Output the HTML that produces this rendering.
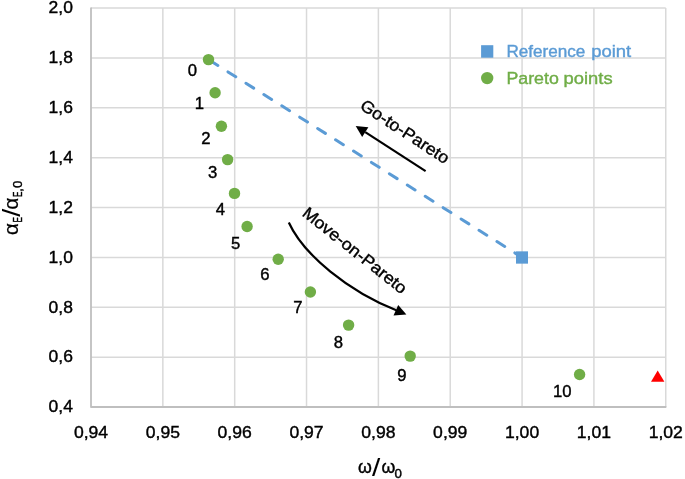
<!DOCTYPE html>
<html lang="en"><head><meta charset="utf-8"><title>Pareto chart</title>
<style>html,body{margin:0;padding:0;background:#fff}svg{display:block}text{font-family:"Liberation Sans",sans-serif;fill:#000;stroke:#000;stroke-width:0.4px}</style>
</head><body>
<svg width="685" height="479" viewBox="0 0 685 479">
<rect width="685" height="479" fill="#fff"/>
<g stroke="#d9d9d9" stroke-width="1.5" fill="none">
<line x1="162.84" y1="8.05" x2="162.84" y2="407.00"/>
<line x1="234.69" y1="8.05" x2="234.69" y2="407.00"/>
<line x1="306.53" y1="8.05" x2="306.53" y2="407.00"/>
<line x1="378.38" y1="8.05" x2="378.38" y2="407.00"/>
<line x1="450.22" y1="8.05" x2="450.22" y2="407.00"/>
<line x1="522.06" y1="8.05" x2="522.06" y2="407.00"/>
<line x1="593.91" y1="8.05" x2="593.91" y2="407.00"/>
<line x1="665.75" y1="8.05" x2="665.75" y2="407.00"/>
<line x1="91.00" y1="8.05" x2="665.75" y2="8.05"/>
<line x1="91.00" y1="57.92" x2="665.75" y2="57.92"/>
<line x1="91.00" y1="107.79" x2="665.75" y2="107.79"/>
<line x1="91.00" y1="157.66" x2="665.75" y2="157.66"/>
<line x1="91.00" y1="207.53" x2="665.75" y2="207.53"/>
<line x1="91.00" y1="257.39" x2="665.75" y2="257.39"/>
<line x1="91.00" y1="307.26" x2="665.75" y2="307.26"/>
<line x1="91.00" y1="357.13" x2="665.75" y2="357.13"/>
</g>
<path d="M91.00 7.45V407.00H666.35" stroke="#bfbfbf" stroke-width="1.8" fill="none" stroke-linejoin="round"/>
<text x="72.9" y="13.30" font-size="16.7" text-anchor="end" textLength="24.3" lengthAdjust="spacingAndGlyphs">2,0</text>
<text x="72.9" y="63.17" font-size="16.7" text-anchor="end" textLength="24.3" lengthAdjust="spacingAndGlyphs">1,8</text>
<text x="72.9" y="113.04" font-size="16.7" text-anchor="end" textLength="24.3" lengthAdjust="spacingAndGlyphs">1,6</text>
<text x="72.9" y="162.91" font-size="16.7" text-anchor="end" textLength="24.3" lengthAdjust="spacingAndGlyphs">1,4</text>
<text x="72.9" y="212.78" font-size="16.7" text-anchor="end" textLength="24.3" lengthAdjust="spacingAndGlyphs">1,2</text>
<text x="72.9" y="262.64" font-size="16.7" text-anchor="end" textLength="24.3" lengthAdjust="spacingAndGlyphs">1,0</text>
<text x="72.9" y="312.51" font-size="16.7" text-anchor="end" textLength="24.3" lengthAdjust="spacingAndGlyphs">0,8</text>
<text x="72.9" y="362.38" font-size="16.7" text-anchor="end" textLength="24.3" lengthAdjust="spacingAndGlyphs">0,6</text>
<text x="72.9" y="412.25" font-size="16.7" text-anchor="end" textLength="24.3" lengthAdjust="spacingAndGlyphs">0,4</text>
<text x="91.00" y="437.6" font-size="16.7" text-anchor="middle" textLength="34.2" lengthAdjust="spacingAndGlyphs">0,94</text>
<text x="162.84" y="437.6" font-size="16.7" text-anchor="middle" textLength="34.2" lengthAdjust="spacingAndGlyphs">0,95</text>
<text x="234.69" y="437.6" font-size="16.7" text-anchor="middle" textLength="34.2" lengthAdjust="spacingAndGlyphs">0,96</text>
<text x="306.53" y="437.6" font-size="16.7" text-anchor="middle" textLength="34.2" lengthAdjust="spacingAndGlyphs">0,97</text>
<text x="378.38" y="437.6" font-size="16.7" text-anchor="middle" textLength="34.2" lengthAdjust="spacingAndGlyphs">0,98</text>
<text x="450.22" y="437.6" font-size="16.7" text-anchor="middle" textLength="34.2" lengthAdjust="spacingAndGlyphs">0,99</text>
<text x="522.06" y="437.6" font-size="16.7" text-anchor="middle" textLength="34.2" lengthAdjust="spacingAndGlyphs">1,00</text>
<text x="593.91" y="437.6" font-size="16.7" text-anchor="middle" textLength="34.2" lengthAdjust="spacingAndGlyphs">1,01</text>
<text x="665.75" y="437.6" font-size="16.7" text-anchor="middle" textLength="34.2" lengthAdjust="spacingAndGlyphs">1,02</text>
<line x1="210.06" y1="60.59" x2="522.0" y2="257.4" stroke="#5b9bd5" stroke-width="3" stroke-linecap="round" stroke-dasharray="9.2 12"/>
<rect x="516" y="251.35" width="12" height="12.3" fill="#5b9bd5"/>
<g fill="#70ad47">
<circle cx="208.5" cy="59.6" r="5.7"/>
<circle cx="215.1" cy="92.8" r="5.7"/>
<circle cx="221.4" cy="126.2" r="5.7"/>
<circle cx="227.6" cy="159.6" r="5.7"/>
<circle cx="234.5" cy="193.4" r="5.7"/>
<circle cx="247.1" cy="226.5" r="5.7"/>
<circle cx="278.2" cy="259.3" r="5.7"/>
<circle cx="310.4" cy="292.0" r="5.7"/>
<circle cx="348.6" cy="325.1" r="5.7"/>
<circle cx="410.2" cy="356.1" r="5.7"/>
<circle cx="579.6" cy="374.5" r="5.7"/>
</g>
<path d="M657.7 370.6L664.4 381.8H651Z" fill="#ff0000"/>
<text x="192.4" y="76.0" font-size="16.7" text-anchor="middle">0</text>
<text x="199.3" y="109.0" font-size="16.7" text-anchor="middle">1</text>
<text x="206.0" y="143.7" font-size="16.7" text-anchor="middle">2</text>
<text x="212.6" y="177.7" font-size="16.7" text-anchor="middle">3</text>
<text x="220.4" y="214.6" font-size="16.7" text-anchor="middle">4</text>
<text x="235.7" y="248.7" font-size="16.7" text-anchor="middle">5</text>
<text x="264.8" y="280.1" font-size="16.7" text-anchor="middle">6</text>
<text x="298.0" y="312.9" font-size="16.7" text-anchor="middle">7</text>
<text x="338.5" y="348.4" font-size="16.7" text-anchor="middle">8</text>
<text x="402.0" y="380.9" font-size="16.7" text-anchor="middle">9</text>
<text x="562.2" y="397.1" font-size="16.7" text-anchor="middle">10</text>
<rect x="481.1" y="45.2" width="12.2" height="12.5" fill="#5b9bd5"/>
<text y="57.2" font-size="16.7" style="fill:#5b9bd5;stroke:#5b9bd5"><tspan x="506.4" textLength="79" lengthAdjust="spacingAndGlyphs">Reference</tspan><tspan> </tspan><tspan x="591.2" textLength="40" lengthAdjust="spacingAndGlyphs">point</tspan></text>
<circle cx="487.2" cy="78.1" r="6.2" fill="#70ad47"/>
<text y="84.2" font-size="16.7" style="fill:#70ad47;stroke:#70ad47"><tspan x="506.4" textLength="52.4" lengthAdjust="spacingAndGlyphs">Pareto</tspan><tspan> </tspan><tspan x="563.6" textLength="49" lengthAdjust="spacingAndGlyphs">points</tspan></text>
<line x1="425.6" y1="171.2" x2="365.27" y2="132.10" stroke="#000" stroke-width="2.2"/>
<path d="M355.7 125.9L368.37 127.32L362.17 136.88Z" fill="#000"/>
<text transform="translate(358.9,108.3) rotate(33.2)" x="0" y="0" font-size="16.7" textLength="102.6" lengthAdjust="spacingAndGlyphs">Go-to-Pareto</text>
<path d="M288.8 222.5C303.67 255.1 349 291.5 396.3 310.2" stroke="#000" stroke-width="2.2" fill="none"/>
<path d="M406.4 314.4L398.2 305L393.5 315.5Z" fill="#000"/>
<text transform="translate(301.2,214.9) rotate(38.5)" x="0" y="0" font-size="16.7" textLength="128" lengthAdjust="spacingAndGlyphs">Move-on-Pareto</text>
<g>
<text x="358.0" y="472.5" font-size="17.7">ω</text>
<text x="372.0" y="475.5" font-size="24.2" textLength="8.3" lengthAdjust="spacingAndGlyphs" style="stroke:none">/</text>
<text x="381.6" y="472.5" font-size="17.7">ω</text>
<text x="394.4" y="478.2" font-size="12.8" textLength="7.4" lengthAdjust="spacingAndGlyphs">0</text>
</g>
<g transform="translate(17.5,234.2) rotate(-90)">
<text x="-0.87" y="0" font-size="19.4" textLength="11.9" lengthAdjust="spacingAndGlyphs" style="stroke-width:0.2px">α</text>
<text x="11.65" y="4.4" font-size="12.8" textLength="5.46" lengthAdjust="spacingAndGlyphs">E</text>
<text x="17.5" y="2.2" font-size="24.6" textLength="8" lengthAdjust="spacingAndGlyphs" style="stroke:none">/</text>
<text x="24.75" y="0" font-size="19.4" textLength="11.9" lengthAdjust="spacingAndGlyphs" style="stroke-width:0.2px">α</text>
<text x="37.25" y="4.4" font-size="12.8" textLength="5.46" lengthAdjust="spacingAndGlyphs">E</text>
<text x="42.5" y="4.4" font-size="12.8">,</text>
<text x="46.1" y="4.4" font-size="12.8" textLength="7.4" lengthAdjust="spacingAndGlyphs">0</text>
</g>
</svg>
</body></html>
